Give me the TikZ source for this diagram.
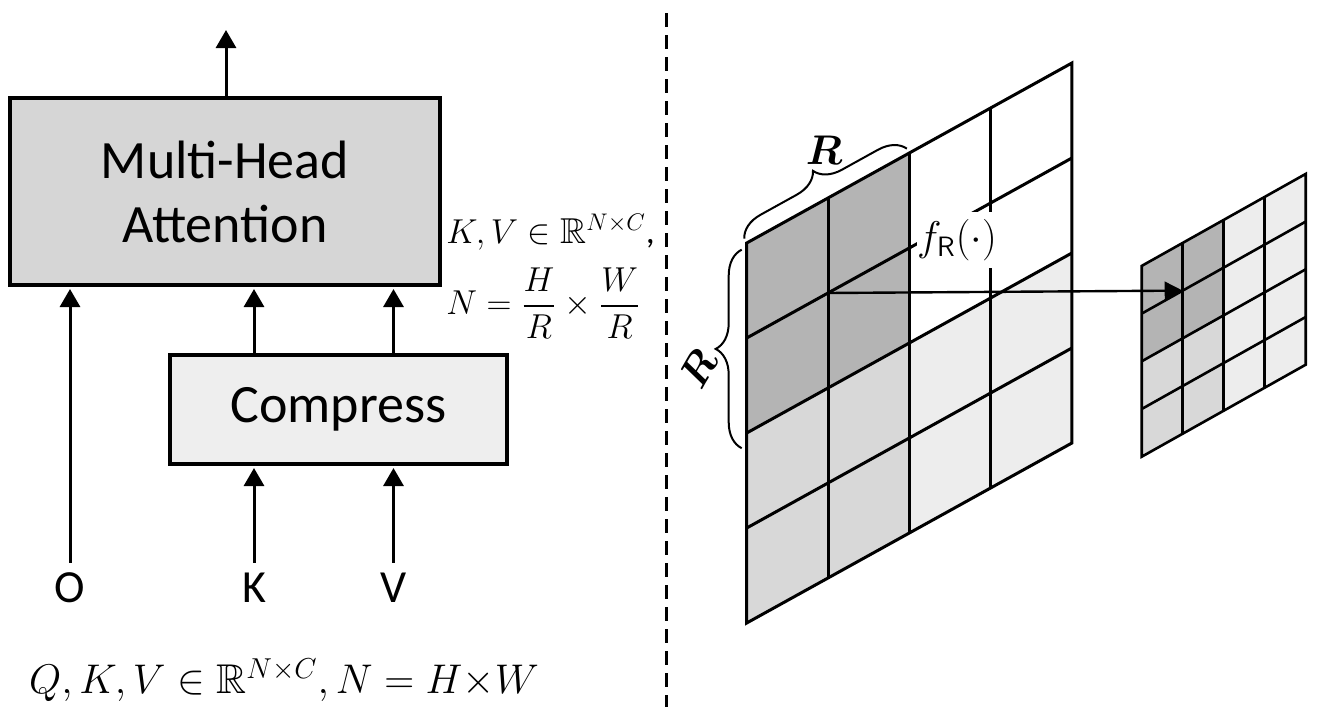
\documentclass[tikz,border=0pt]{standalone}
\usepackage{amsmath,amssymb}
\usepackage{fontspec}
\setmainfont{Carlito}
\usepackage{tikz}
\usetikzlibrary{positioning, arrows.meta, calc, decorations.pathreplacing}
\definecolor{dark}{HTML}{B4B4B4}
\definecolor{mid}{HTML}{D8D8D8}
\definecolor{pale}{HTML}{EDEDED}
\definecolor{boxgray}{HTML}{D6D6D6}
\definecolor{boxlight}{HTML}{EEEEEE}

\begin{document}
\begin{tikzpicture}[
  x=0.5pt, y=0.5pt,
  bx/.style={rectangle, draw=black, line width=2pt, fill=boxgray,
             inner sep=0pt, align=center, font=\fontsize{27}{32}\selectfont},
  arr/.style={-{Triangle[length=9pt, width=10pt]}, line width=1.5pt, shorten >=1pt},
  lbl/.style={font=\fontsize{23}{28}\selectfont, inner sep=5pt},
  gridln/.style={line width=1.5pt, line join=miter},
  brc/.style={decorate, decoration={brace, amplitude=13pt, raise=2.5pt}, line width=1pt}
]
\useasboundingbox (0,0) rectangle (1317,-707);

% left half: attention block
\node[bx, minimum width=215pt, minimum height=93.5pt] (mha) at (225,-191.5)
  {Multi-Head\\Attention};
\node[bx, fill=boxlight, minimum width=168.5pt, minimum height=54.5pt] (cmp) at (338.5,-409.5)
  {Compress};
\node[lbl] (q) at (70,-588) {O};
\node[lbl] (k) at (254,-588) {K};
\node[lbl] (v) at (393.5,-588) {V};
\coordinate (out) at (226,-28);

% inputs
\draw[arr] (q.north) -- (q.north |- mha.south);
\draw[arr] (k.north) -- (k.north |- cmp.south);
\draw[arr] (v.north) -- (v.north |- cmp.south);
\draw[arr] (cmp.north -| k) -- (mha.south -| k);
\draw[arr] (cmp.north -| v) -- (mha.south -| v);
% output
\draw[arr] (mha.north -| out) -- (out);

\node[font=\fontsize{20.8}{25}\selectfont] (qkv) at (284,-680)
  {$Q,K,V\in\mathbb{R}^{N\times C},N=H{\times}W$};
\node[font=\fontsize{18}{22}\selectfont, anchor=base west, inner sep=0pt] (kv) at (446,-243)
  {$K,V\in\mathbb{R}^{N\times C}$,};
\node[font=\fontsize{18}{22}\selectfont, anchor=west, inner sep=0pt] (nn) at (446,-303)
  {$N=\dfrac{H}{R}\times\dfrac{W}{R}$};

% separator
\draw[line width=1.5pt, dash pattern=on 7pt off 4pt] (666,-13) -- (666,-707);

% right half: feature map
\begin{scope}[shift={(746.7,-623)}, x={(40.65pt,22.5pt)}, y={(0pt,47.5pt)}]
  \fill[mid] (0,0) -- (2,0) -- (2,2) -- (0,2) -- cycle;
  \fill[dark] (0,2) -- (2,2) -- (2,4) -- (0,4) -- cycle;
  \fill[pale] (2,0) -- (4,0) -- (4,2) -- (2,2) -- cycle;
  \foreach \i in {1,2,3} {
    \draw[gridln] (\i,0) -- (\i,4);
    \draw[gridln] (0,\i) -- (4,\i);
  }
  \draw[gridln] (0,0) -- (4,0) -- (4,4) -- (0,4) -- cycle;
  \coordinate (src) at (1,3);
  \draw[brc] (0,1.84) -- (0,3.93)
    node[midway, xshift=-24pt, yshift=-10pt, rotate=60, font=\fontsize{20}{24}\selectfont] {$\boldsymbol{R}$};
  \draw[brc] (0,4) -- (2,4)
    node[midway, xshift=-2pt, yshift=24pt, font=\fontsize{20}{24}\selectfont] {$\boldsymbol{R}$};
\end{scope}

% reduced map
\begin{scope}[shift={(1141.7,-456.7)}, x={(20.5pt,11.5pt)}, y={(0pt,23.85pt)}]
  \fill[mid] (0,0) -- (2,0) -- (2,2) -- (0,2) -- cycle;
  \fill[dark] (0,2) -- (2,2) -- (2,4) -- (0,4) -- cycle;
  \fill[pale] (2,0) -- (4,0) -- (4,4) -- (2,4) -- cycle;
  \foreach \i in {1,2,3} {
    \draw[gridln, line width=1.3pt] (\i,0) -- (\i,4);
    \draw[gridln, line width=1.3pt] (0,\i) -- (4,\i);
  }
  \draw[gridln, line width=1.3pt] (0,0) -- (4,0) -- (4,4) -- (0,4) -- cycle;
  \coordinate (dst) at (1,3);
\end{scope}

\node[fill=white, inner sep=0pt, minimum width=40pt, minimum height=28pt,
      font=\fontsize{20}{24}\selectfont] (fr) at (957,-240)
  {$f_{\mathsf{R}}(\cdot)$};
\draw[-{Triangle[length=9pt, width=9pt]}, line width=1.2pt] (src) -- (dst);
\end{tikzpicture}
\end{document}
